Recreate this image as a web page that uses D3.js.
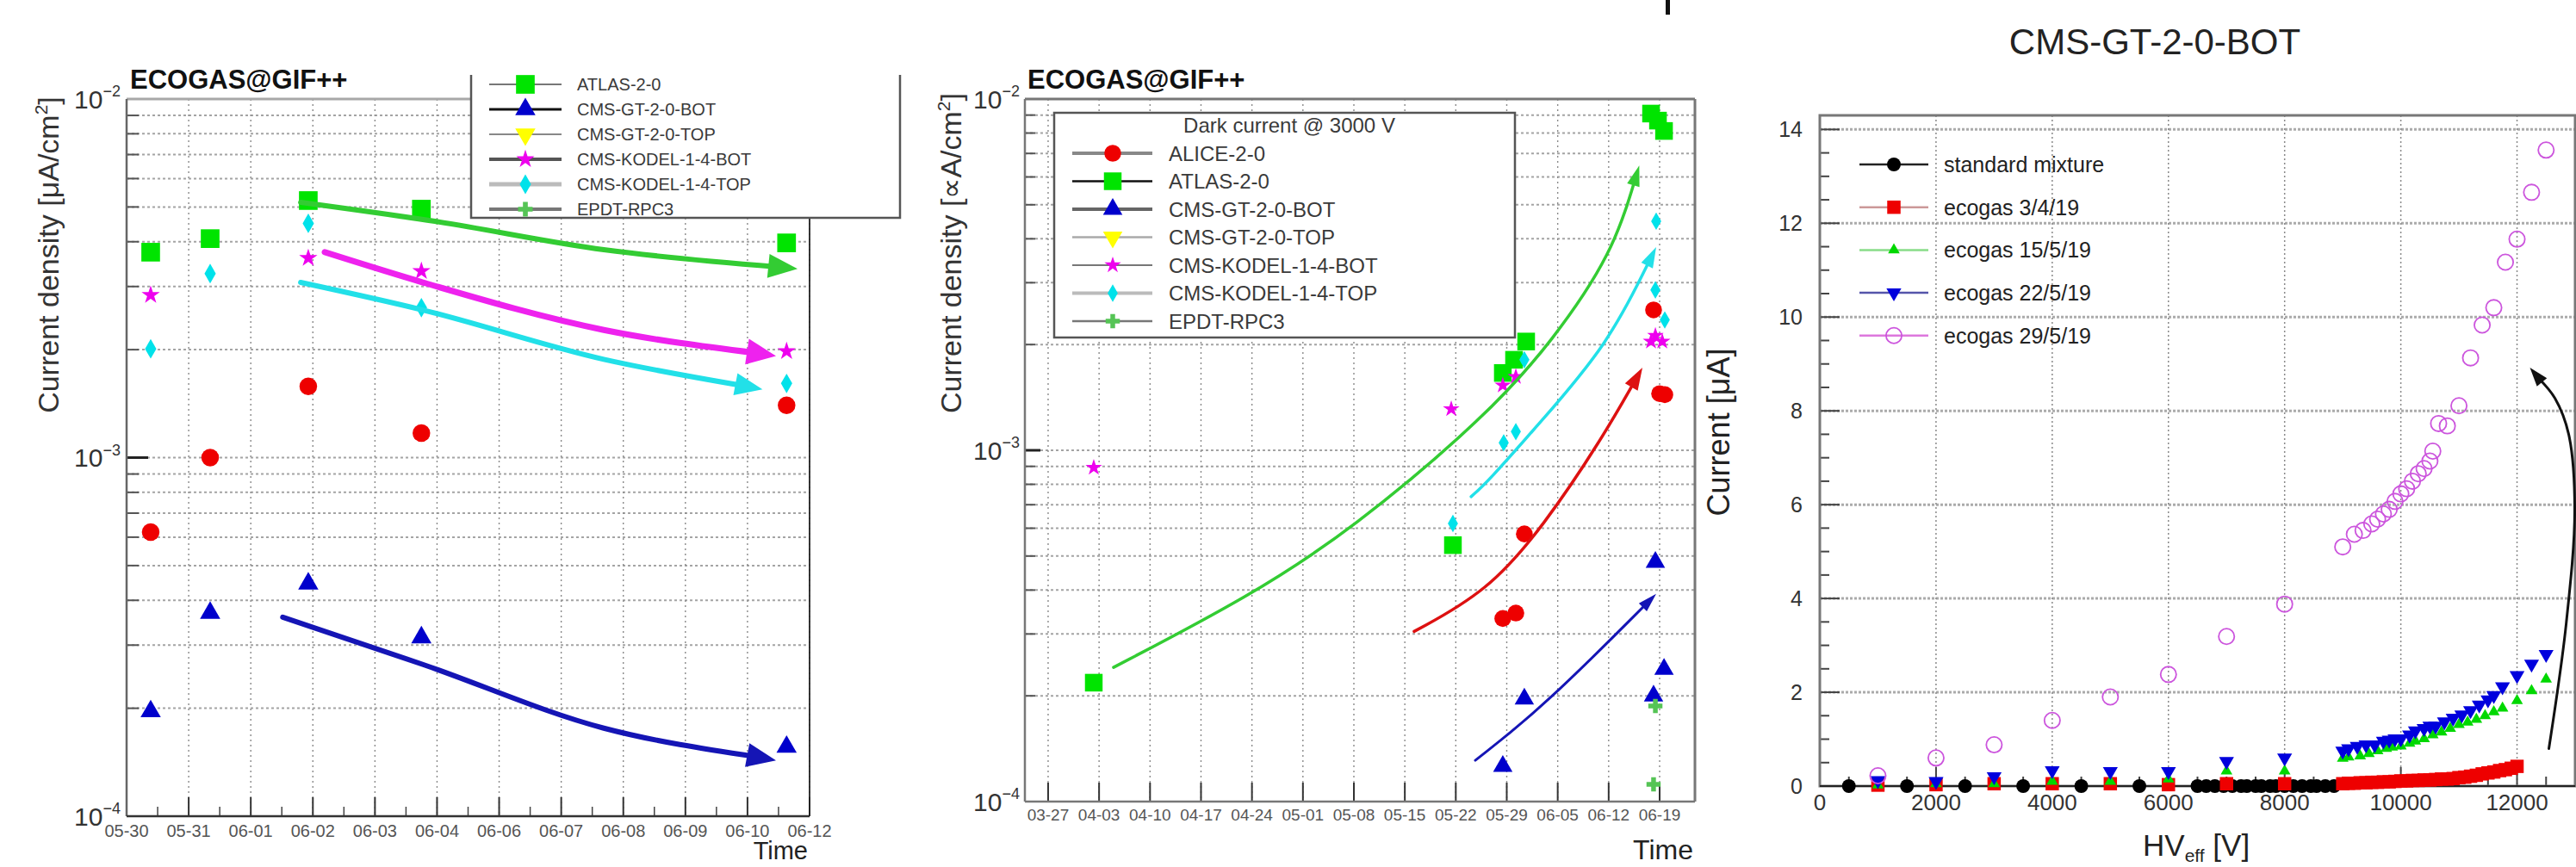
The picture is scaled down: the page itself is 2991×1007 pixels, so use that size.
<!DOCTYPE html>
<html>
<head>
<meta charset="utf-8">
<script src="https://cdn.jsdelivr.net/npm/d3@7"></script>
<style>
  body { margin: 0; background: #fff; }
  svg { display: block; }
  text { font-family: "Liberation Sans", Arial, sans-serif; }
</style>
</head>
<body>
<svg id="chart" width="2991" height="1007"></svg>
<script>
// ---------- panel 1: dark current vs time (05-30 .. 06-12) ----------
const p1Alice = [["2019-05-30 11:00", 6.2e-4], ["2019-05-31 14:10", 1.0e-3], ["2019-06-02 11:00", 1.58e-3], ["2019-06-04 14:40", 1.17e-3], ["2019-06-11 13:30", 1.40e-3]];
const p1Atlas = [["2019-05-30 11:00", 3.74e-3], ["2019-05-31 14:10", 4.08e-3], ["2019-06-02 11:00", 5.21e-3], ["2019-06-04 14:40", 4.93e-3], ["2019-06-11 13:30", 3.97e-3]];
const p1GtBot = [["2019-05-30 11:00", 1.96e-4], ["2019-05-31 14:10", 3.69e-4], ["2019-06-02 11:00", 4.45e-4], ["2019-06-04 14:40", 3.15e-4], ["2019-06-11 13:30", 1.56e-4]];
const p1KodelBot = [["2019-05-30 11:00", 2.84e-3], ["2019-06-02 11:00", 3.60e-3], ["2019-06-04 14:40", 3.31e-3], ["2019-06-11 13:30", 1.98e-3]];
const p1KodelTop = [["2019-05-30 11:00", 2.01e-3], ["2019-05-31 14:10", 3.26e-3], ["2019-06-02 11:00", 4.50e-3], ["2019-06-04 14:40", 2.62e-3], ["2019-06-11 13:30", 1.61e-3]];
// hand-drawn trend arrows (points along each curve, last one is the tip)
const p1ArrowAtlas = [["2019-06-02 07:30", 5.15e-3], ["2019-06-04 20:50", 4.56e-3], ["2019-06-08 02:00", 3.80e-3], ["2019-06-11 18:30", 3.36e-3]];
const p1ArrowKodelBot = [["2019-06-02 18:30", 3.74e-3], ["2019-06-04 15:20", 3.08e-3], ["2019-06-08 02:00", 2.27e-3], ["2019-06-11 08:40", 1.92e-3]];
const p1ArrowKodelTop = [["2019-06-02 07:30", 3.08e-3], ["2019-06-04 15:20", 2.58e-3], ["2019-06-08 02:00", 1.88e-3], ["2019-06-11 02:30", 1.55e-3]];
const p1ArrowGtBot = [["2019-06-01 23:20", 3.59e-4], ["2019-06-04 15:20", 2.65e-4], ["2019-06-08 02:00", 1.76e-4], ["2019-06-11 08:40", 1.43e-4]];

// ---------- panel 2: dark current @ 3000 V (03-27 .. 06-19) ----------
const p2Alice = [["2019-05-28 11:00", 3.32e-4], ["2019-05-30 06:00", 3.44e-4], ["2019-05-31 10:00", 5.78e-4], ["2019-06-18 04:00", 2.51e-3], ["2019-06-19 00:00", 1.45e-3], ["2019-06-19 17:00", 1.44e-3]];
const p2Atlas = [["2019-04-02 06:30", 2.18e-4], ["2019-05-21 14:30", 5.37e-4], ["2019-05-28 11:00", 1.66e-3], ["2019-05-30 00:00", 1.81e-3], ["2019-05-31 16:00", 2.04e-3], ["2019-06-17 19:40", 9.09e-3], ["2019-06-18 18:30", 8.68e-3], ["2019-06-19 14:30", 8.11e-3]];
const p2GtBot = [["2019-05-28 11:00", 1.26e-4], ["2019-05-31 10:00", 1.96e-4], ["2019-06-18 04:00", 2.0e-4], ["2019-06-18 10:00", 4.8e-4], ["2019-06-19 14:30", 2.38e-4]];
const p2GtTop = [];
const p2KodelBot = [["2019-04-02 06:30", 8.93e-4], ["2019-05-21 09:00", 1.31e-3], ["2019-05-28 11:00", 1.53e-3], ["2019-05-30 06:00", 1.62e-3], ["2019-06-17 19:40", 2.04e-3], ["2019-06-18 10:00", 2.12e-3], ["2019-06-19 08:40", 2.04e-3]];
const p2KodelTop = [["2019-05-21 14:30", 6.19e-4], ["2019-05-28 14:00", 1.05e-3], ["2019-05-30 06:00", 1.13e-3], ["2019-05-31 10:00", 1.81e-3], ["2019-06-18 10:00", 2.86e-3], ["2019-06-18 12:40", 4.49e-3], ["2019-06-19 17:00", 2.35e-3]];
const p2Epdt = [["2019-06-18 04:00", 1.12e-4], ["2019-06-18 10:00", 1.87e-4]];
const p2ArrowAtlas = [["2019-04-04 23:45", 2.41e-4], ["2019-04-23 13:40", 3.83e-4], ["2019-05-07 18:30", 5.95e-4], ["2019-05-26 08:10", 1.26e-3], ["2019-06-04 08:00", 2.05e-3], ["2019-06-12 14:30", 3.66e-3], ["2019-06-16 04:50", 6.47e-3]];
const p2ArrowKodelTop = [["2019-05-24 02:30", 7.38e-4], ["2019-05-26 08:10", 8.11e-4], ["2019-06-02 10:30", 1.19e-3], ["2019-06-11 21:40", 2.0e-3], ["2019-06-18 12:40", 3.79e-3]];
const p2ArrowAlice = [["2019-05-16 06:40", 3.05e-4], ["2019-05-26 08:10", 3.96e-4], ["2019-06-03 03:40", 6.12e-4], ["2019-06-11 02:00", 1.08e-3], ["2019-06-16 15:20", 1.72e-3]];
const p2ArrowGtBot = [["2019-05-24 16:20", 1.31e-4], ["2019-06-03 03:40", 1.87e-4], ["2019-06-18 12:40", 3.9e-4]];

const legendNames = ["ALICE-2-0", "ATLAS-2-0", "CMS-GT-2-0-BOT", "CMS-GT-2-0-TOP", "CMS-KODEL-1-4-BOT", "CMS-KODEL-1-4-TOP", "EPDT-RPC3"];

// ---------- panel 3: CMS-GT-2-0-BOT current vs HV_eff ----------
const hvStd = [500, 1500, 2500, 3500, 4500, 5500, 6500, 6650, 6800, 6950, 7100, 7250, 7350, 7500, 7600, 7750, 7850, 8000, 8150, 8300, 8450, 8550, 8700, 8850];
const iStd = [0, 0, 0, 0, 0, 0, 0, 0, 0, 0, 0, 0, 0, 0, 0, 0, 0, 0, 0, 0, 0, 0, 0, 0];
const hv0304 = [1000, 2000, 3000, 4000, 5000, 6000, 7000, 8000,
  9000, 9100, 9200, 9300, 9400, 9500, 9600, 9700, 9800, 9900, 10000, 10100, 10200, 10300, 10400, 10500,
  10600, 10700, 10800, 10900, 11000, 11100, 11200, 11300, 11400, 11500, 11600, 11700, 11800, 11900, 12000];
const i0304 = [0.02, 0.03, 0.05, 0.05, 0.05, 0.03, 0.05, 0.05,
  0.05, 0.06, 0.06, 0.07, 0.07, 0.08, 0.08, 0.09, 0.09, 0.10, 0.11, 0.11, 0.12, 0.12, 0.13, 0.13,
  0.14, 0.15, 0.15, 0.16, 0.18, 0.19, 0.21, 0.23, 0.26, 0.28, 0.30, 0.33, 0.35, 0.38, 0.42];
const hv1505 = [1000, 2000, 3000, 4000, 5000, 6000, 7000, 8000,
  9000, 9100, 9300, 9450, 9600, 9750, 9850, 10000, 10150, 10250, 10400, 10550, 10700, 10850, 11000, 11150, 11300, 11450, 11600, 11750, 12000, 12250, 12500];
const i1505 = [0.02, 0.05, 0.05, 0.10, 0.10, 0.15, 0.32, 0.32,
  0.59, 0.62, 0.64, 0.69, 0.75, 0.80, 0.83, 0.85, 0.91, 0.96, 1.01, 1.09, 1.15, 1.23, 1.31, 1.36, 1.42, 1.50, 1.58, 1.66, 1.82, 2.03, 2.28];
const hv2205 = [1000, 2000, 3000, 4000, 5000, 6000, 7000, 8000,
  9000, 9100, 9250, 9400, 9550, 9700, 9800, 9900, 10000, 10150, 10250, 10400, 10500, 10600, 10750, 10900, 11050, 11200, 11350, 11500, 11600, 11750, 12000, 12250, 12500];
const i2205 = [0.12, 0.10, 0.20, 0.33, 0.31, 0.31, 0.53, 0.60,
  0.75, 0.80, 0.85, 0.88, 0.88, 0.96, 0.98, 1.01, 1.01, 1.09, 1.18, 1.23, 1.28, 1.28, 1.37, 1.45, 1.52, 1.61, 1.73, 1.84, 1.93, 2.12, 2.36, 2.60, 2.81];
const hv2905 = [1000, 2000, 3000, 4000, 5000, 6000, 7000, 8000,
  9000, 9200, 9350, 9500, 9600, 9700, 9800, 9900, 10000, 10100, 10200, 10300, 10400, 10500, 10550, 10650, 10800, 11000, 11200, 11400, 11600, 11800, 12000, 12250, 12500];
const i2905 = [0.22, 0.60, 0.88, 1.40, 1.90, 2.38, 3.19, 3.88,
  5.10, 5.37, 5.45, 5.59, 5.69, 5.80, 5.90, 6.07, 6.23, 6.34, 6.50, 6.66, 6.77, 6.93, 7.14, 7.73, 7.68, 8.11, 9.13, 9.83, 10.2, 11.17, 11.66, 12.66, 13.56];
const p3Arrow = [[12548, 0.8], [12844, 3.44], [12993, 5.9], [12889, 7.5], [12652, 8.27], [12222, 8.92]];
const p3Names = ["standard mixture", "ecogas 3/4/19", "ecogas 15/5/19", "ecogas 22/5/19", "ecogas 29/5/19"];

// ---------------------------------------------------------------
const svg = d3.select("#chart");
const parse = d3.timeParse("%Y-%m-%d %H:%M");
const fmtDay = d3.timeFormat("%m-%d");
const zip = (a, b) => a.map((v, i) => [v, b[i]]);

const shapes = {
  circle: d3.symbolCircle, square: d3.symbolSquare, triUp: d3.symbolTriangle,
  triDown: d3.symbolTriangle, star: d3.symbolStar, diamond: d3.symbolDiamond, cross: d3.symbolCross
};

function drawMarks(g, data, px, py, st) {
  g.append("g").selectAll("path").data(data).join("path")
    .attr("transform", d => `translate(${px(d)},${py(d)})` + (st.shape === "triDown" ? " rotate(180)" : ""))
    .attr("d", d3.symbol(shapes[st.shape], st.size))
    .attr("fill", st.open ? "none" : st.color)
    .attr("stroke", st.open ? st.color : "none")
    .attr("stroke-width", st.open ? 1.8 : 0);
}

function drawArrow(g, pts, color, width, headL, headW, curve) {
  const p = pts.slice();
  const n = p.length, tip = p[n - 1], prev = p[n - 2];
  let dx = tip[0] - prev[0], dy = tip[1] - prev[1];
  const len = Math.hypot(dx, dy);
  dx /= len; dy /= len;
  const base = [tip[0] - dx * headL, tip[1] - dy * headL];
  p[n - 1] = [tip[0] - dx * headL * 0.7, tip[1] - dy * headL * 0.7];
  g.append("path")
    .attr("d", d3.line().curve(curve || d3.curveMonotoneX)(p))
    .attr("fill", "none").attr("stroke", color)
    .attr("stroke-width", width).attr("stroke-linecap", "round");
  g.append("path")
    .attr("d", `M${tip[0]},${tip[1]}L${base[0] - dy * headW / 2},${base[1] + dx * headW / 2}L${base[0] + dy * headW / 2},${base[1] - dx * headW / 2}Z`)
    .attr("fill", color);
}

function powLabel(g, x, y, exp, size) {
  const t = g.append("text").attr("x", x).attr("y", y + size * 0.36)
    .attr("text-anchor", "end").attr("fill", "#333").style("font-size", size + "px");
  t.append("tspan").text("10");
  t.append("tspan").attr("dy", -size * 0.45).style("font-size", (size * 0.6) + "px").text("\u2212" + exp);
}

// ROOT-like log-y time panel (panels 1 and 2)
function logPanel(c) {
  const g = svg.append("g");
  const x = c.x, y = c.y;
  const [x0, x1] = x.range(), [yb, yt] = y.range();

  const minors = [];
  [1e-4, 1e-3].forEach(d => { for (let k = 2; k <= 9; k++) minors.push(k * d); });

  // grid
  g.append("g").selectAll("line").data(minors.concat([1e-3])).join("line")
    .attr("x1", x0).attr("x2", x1).attr("y1", d => y(d)).attr("y2", d => y(d))
    .attr("stroke", "#a4a4a4").attr("stroke-width", 2).attr("stroke-dasharray", "3,3");
  g.append("g").selectAll("line").data(c.ticks).join("line")
    .attr("x1", d => x(d)).attr("x2", d => x(d)).attr("y1", yt).attr("y2", yb)
    .attr("stroke", "#8a8a8a").attr("stroke-width", 1.4).attr("stroke-dasharray", "2,4");

  // ticks
  g.append("g").selectAll("line").data(minors).join("line")
    .attr("x1", x0).attr("x2", x0 + c.minorLen).attr("y1", d => y(d)).attr("y2", d => y(d))
    .attr("stroke", "#555").attr("stroke-width", 2);
  g.append("line").attr("x1", x0).attr("x2", x0 + c.majorLen).attr("y1", y(1e-3)).attr("y2", y(1e-3))
    .attr("stroke", "#222").attr("stroke-width", 3);
  g.append("g").selectAll("line").data(c.ticks).join("line")
    .attr("x1", d => x(d)).attr("x2", d => x(d)).attr("y1", yb).attr("y2", yb - 22)
    .attr("stroke", "#333").attr("stroke-width", 2);
  g.append("g").selectAll("line").data(c.minorTicks).join("line")
    .attr("x1", d => x(d)).attr("x2", d => x(d)).attr("y1", yb).attr("y2", yb - 11)
    .attr("stroke", "#444").attr("stroke-width", 1.5);

  // frame
  g.append("line").attr("x1", x0).attr("x2", x1).attr("y1", yt).attr("y2", yt).attr("stroke", c.frame.top).attr("stroke-width", 3);
  g.append("line").attr("x1", x0).attr("x2", x0).attr("y1", yt).attr("y2", yb).attr("stroke", c.frame.left).attr("stroke-width", 2.5);
  g.append("line").attr("x1", x0).attr("x2", x1).attr("y1", yb).attr("y2", yb).attr("stroke", c.frame.bottom).attr("stroke-width", 2.5);
  g.append("line").attr("x1", x1).attr("x2", x1).attr("y1", yt).attr("y2", yb).attr("stroke", c.frame.right).attr("stroke-width", c.frame.rightW);

  // tick labels
  g.append("g").selectAll("text").data(c.ticks).join("text")
    .attr("x", d => x(d)).attr("y", c.labelY).attr("text-anchor", "middle")
    .attr("fill", "#555").style("font-size", c.tickFont + "px").text(d => fmtDay(d));
  [2, 3, 4].forEach(e => powLabel(g, c.powX, y(Math.pow(10, -e)), e, 30));

  // titles
  g.append("text").attr("x", c.titleX).attr("y", 103).style("font-size", "31px")
    .style("font-weight", "bold").attr("fill", "#111").text("ECOGAS@GIF++");
  const yl = g.append("text").attr("transform", `translate(${c.ylabX},${c.ylabY}) rotate(-90)`)
    .attr("text-anchor", "middle").attr("fill", "#333").style("font-size", "34px");
  yl.append("tspan").text(`Current density [${c.mu}A/cm`);
  yl.append("tspan").attr("dy", -13).style("font-size", "21px").text("2");
  yl.append("tspan").attr("dy", 13).text("]");
  g.append("text").attr("x", x1 - 2).attr("y", c.timeY).attr("text-anchor", "end")
    .attr("fill", "#222").style("font-size", c.timeFont + "px").text("Time");
  return g;
}

function legendBox(g, c) {
  g.append("rect").attr("x", c.x0).attr("y", c.y0).attr("width", c.x1 - c.x0).attr("height", c.y1 - c.y0)
    .attr("fill", "#fff");
  g.append("path").attr("d", c.open
      ? `M${c.x0},${c.y0}V${c.y1}H${c.x1}V${c.y0}`
      : `M${c.x0},${c.y0}V${c.y1}H${c.x1}V${c.y0}Z`)
    .attr("fill", "none").attr("stroke", "#555").attr("stroke-width", 2.5);
  c.entries.forEach((e, i) => {
    const yy = c.firstY + i * c.step;
    g.append("line").attr("x1", c.lineX0).attr("x2", c.lineX1).attr("y1", yy).attr("y2", yy)
      .attr("stroke", e.line).attr("stroke-width", e.lw);
    drawMarks(g, [0], () => c.markX, () => yy, e.style);
    g.append("text").attr("x", c.textX).attr("y", yy + c.font * 0.36)
      .attr("fill", "#3a3a3a").style("font-size", c.font + "px").text(e.name);
  });
}

// ================= panel 1 =================
{
  const d0 = new Date(2019, 4, 30), d1 = new Date(2019, 5, 12);
  const x = d3.scaleTime().domain([d0, d1]).range([147, 940]);
  const y = d3.scaleLog().domain([1e-4, 1e-2]).range([948, 115]);
  const step = (d1 - d0) / 11;
  const ticks = d3.range(12).map(i => new Date(+d0 + i * step));
  const minorTicks = d3.range(11).map(i => new Date(+d0 + (i + 0.5) * step));
  const g = logPanel({
    x, y, ticks, minorTicks, majorLen: 25, minorLen: 14, labelY: 972, tickFont: 20,
    powX: 140, titleX: 151, ylabX: 68, ylabY: 296, timeY: 998, timeFont: 29, mu: "\u03bc",
    frame: { top: "#a8a8a8", left: "#666", bottom: "#333", right: "#222", rightW: 1.8 }
  });
  const st = {
    alice: { shape: "circle", size: 330, color: "#ee0000" },
    atlas: { shape: "square", size: 470, color: "#00e400" },
    gtBot: { shape: "triUp", size: 240, color: "#0000cc" },
    gtTop: { shape: "triDown", size: 240, color: "#ffff00" },
    kBot: { shape: "star", size: 140, color: "#ee00ee" },
    kTop: { shape: "diamond", size: 150, color: "#00e2ea" },
    epdt: { shape: "cross", size: 160, color: "#55c455" }
  };
  legendBox(g, {
    x0: 547, x1: 1045, y0: 87, y1: 253, open: true, firstY: 98, step: 29,
    lineX0: 568, lineX1: 652, markX: 610, textX: 670, font: 20,
    entries: [
      { name: legendNames[1], line: "#777", lw: 2, style: st.atlas },
      { name: legendNames[2], line: "#111", lw: 3, style: st.gtBot },
      { name: legendNames[3], line: "#888", lw: 2, style: st.gtTop },
      { name: legendNames[4], line: "#555", lw: 4, style: st.kBot },
      { name: legendNames[5], line: "#bbb", lw: 5, style: st.kTop },
      { name: legendNames[6], line: "#777", lw: 4, style: st.epdt }
    ]
  });
  const px = d => x(parse(d[0])), py = d => y(d[1]);
  drawMarks(g, p1Alice, px, py, st.alice);
  drawMarks(g, p1Atlas, px, py, st.atlas);
  drawMarks(g, p1GtBot, px, py, st.gtBot);
  drawMarks(g, p1KodelBot, px, py, st.kBot);
  drawMarks(g, p1KodelTop, px, py, st.kTop);
  const toPx = a => a.map(d => [px(d), py(d)]);
  drawArrow(g, toPx(p1ArrowAtlas), "#33cc33", 6, 34, 28);
  drawArrow(g, toPx(p1ArrowKodelBot), "#ee22ee", 7, 34, 30);
  drawArrow(g, toPx(p1ArrowKodelTop), "#22e0e8", 6, 32, 26);
  drawArrow(g, toPx(p1ArrowGtBot), "#1515b5", 6, 34, 28);
}

// ================= panel 2 =================
{
  const x = d3.scaleTime().domain([new Date(2019, 2, 23, 19, 25), new Date(2019, 5, 23, 20, 25)]).range([1190, 1968]);
  const y = d3.scaleLog().domain([1e-4, 1e-2]).range([931, 115]);
  const ticks = d3.timeWednesday.range(new Date(2019, 2, 26), new Date(2019, 5, 20));
  const g = logPanel({
    x, y, ticks, minorTicks: [], majorLen: 18, minorLen: 12, labelY: 953, tickFont: 19,
    powX: 1184, titleX: 1193, ylabX: 1116, ylabY: 294, timeY: 998, timeFont: 32, mu: "\u221d",
    frame: { top: "#777", left: "#777", bottom: "#777", right: "#777", rightW: 3 }
  });
  const st = {
    alice: { shape: "circle", size: 300, color: "#ee0000" },
    atlas: { shape: "square", size: 420, color: "#00e400" },
    gtBot: { shape: "triUp", size: 220, color: "#0000cc" },
    gtTop: { shape: "triDown", size: 220, color: "#ffff00" },
    kBot: { shape: "star", size: 115, color: "#ee00ee" },
    kTop: { shape: "diamond", size: 120, color: "#00e2ea" },
    epdt: { shape: "cross", size: 150, color: "#55c455" }
  };
  legendBox(g, {
    x0: 1224, x1: 1759, y0: 131, y1: 392, open: false, firstY: 178, step: 32.5,
    lineX0: 1245, lineX1: 1338, markX: 1292, textX: 1357, font: 24,
    entries: [
      { name: legendNames[0], line: "#888", lw: 4, style: st.alice },
      { name: legendNames[1], line: "#111", lw: 2.5, style: st.atlas },
      { name: legendNames[2], line: "#666", lw: 4, style: st.gtBot },
      { name: legendNames[3], line: "#aaa", lw: 2.5, style: st.gtTop },
      { name: legendNames[4], line: "#777", lw: 2, style: st.kBot },
      { name: legendNames[5], line: "#bbb", lw: 4, style: st.kTop },
      { name: legendNames[6], line: "#777", lw: 2.5, style: st.epdt }
    ]
  });
  g.append("text").attr("x", 1497).attr("y", 154).attr("text-anchor", "middle")
    .attr("fill", "#3a3a3a").style("font-size", "24px").text("Dark current @ 3000 V");
  const px = d => x(parse(d[0])), py = d => y(d[1]);
  drawMarks(g, p2Alice, px, py, st.alice);
  drawMarks(g, p2Atlas, px, py, st.atlas);
  drawMarks(g, p2GtBot, px, py, st.gtBot);
  drawMarks(g, p2GtTop, px, py, st.gtTop);
  drawMarks(g, p2KodelBot, px, py, st.kBot);
  drawMarks(g, p2KodelTop, px, py, st.kTop);
  drawMarks(g, p2Epdt, px, py, st.epdt);
  const toPx = a => a.map(d => [px(d), py(d)]);
  drawArrow(g, toPx(p2ArrowAtlas), "#33cc33", 3.5, 24, 15, d3.curveBasis);
  drawArrow(g, toPx(p2ArrowKodelTop), "#22e0e8", 3.5, 24, 15, d3.curveBasis);
  drawArrow(g, toPx(p2ArrowAlice), "#dd1111", 3.5, 26, 17, d3.curveBasis);
  drawArrow(g, toPx(p2ArrowGtBot), "#1515b5", 3, 22, 13, d3.curveBasis);
  // fragment of a cut-off heading at the very top
  g.append("rect").attr("x", 1934).attr("y", 0).attr("width", 5).attr("height", 17).attr("fill", "#111");
}

// ================= panel 3 =================
{
  const g = svg.append("g");
  const x = d3.scaleLinear().domain([0, 13000]).range([2113, 2990]);
  const y = d3.scaleLinear().domain([0, 14.3]).range([913, 134]);
  const yMajor = d3.range(2, 16, 2).filter(v => v <= 14);
  const xMajor = d3.range(2000, 13000, 2000);

  g.append("g").selectAll("line").data(yMajor).join("line")
    .attr("x1", x(0)).attr("x2", x(13000)).attr("y1", d => y(d)).attr("y2", d => y(d))
    .attr("stroke", "#ababab").attr("stroke-width", 3).attr("stroke-dasharray", "3,2");
  g.append("g").selectAll("line").data(xMajor).join("line")
    .attr("x1", d => x(d)).attr("x2", d => x(d)).attr("y1", y(14.3)).attr("y2", y(0))
    .attr("stroke", "#8a8a8a").attr("stroke-width", 1.5).attr("stroke-dasharray", "2,3");

  // ticks
  g.append("g").selectAll("line").data(d3.range(0, 14.3, 0.5)).join("line")
    .attr("x1", x(0)).attr("x2", d => x(0) + (d % 2 === 0 ? 23 : 11)).attr("y1", d => y(d)).attr("y2", d => y(d))
    .attr("stroke", "#444").attr("stroke-width", 2);
  g.append("g").selectAll("line").data(d3.range(0, 13001, 500)).join("line")
    .attr("x1", d => x(d)).attr("x2", d => x(d)).attr("y1", y(0)).attr("y2", d => y(0) - (d % 2000 === 0 ? 22 : 11))
    .attr("stroke", "#444").attr("stroke-width", 2);

  // frame
  g.append("rect").attr("x", x(0)).attr("y", y(14.3)).attr("width", x(13000) - x(0)).attr("height", y(0) - y(14.3))
    .attr("fill", "none").attr("stroke", "#777").attr("stroke-width", 3);
  g.append("line").attr("x1", x(0)).attr("x2", x(13000)).attr("y1", y(0)).attr("y2", y(0))
    .attr("stroke", "#222").attr("stroke-width", 2);

  // labels
  g.append("g").selectAll("text").data(d3.range(0, 13000, 2000)).join("text")
    .attr("x", d => x(d)).attr("y", 941).attr("text-anchor", "middle")
    .attr("fill", "#333").style("font-size", "26px").text(d => d);
  g.append("g").selectAll("text").data(d3.range(0, 15, 2)).join("text")
    .attr("x", 2093).attr("y", d => y(d) + 9).attr("text-anchor", "end")
    .attr("fill", "#333").style("font-size", "25px").text(d => d);
  g.append("text").attr("x", 2502).attr("y", 63).attr("text-anchor", "middle")
    .attr("fill", "#222").style("font-size", "42px").text("CMS-GT-2-0-BOT");
  g.append("text").attr("transform", "translate(2008,502) rotate(-90)").attr("text-anchor", "middle")
    .attr("fill", "#222").style("font-size", "36px").text("Current [\u03bcA]");
  const xl = g.append("text").attr("x", 2488).attr("y", 994).attr("fill", "#222").style("font-size", "35px");
  xl.append("tspan").text("HV");
  xl.append("tspan").attr("dy", 7).style("font-size", "21px").text("eff");
  xl.append("tspan").attr("dy", -7).text(" [V]");

  const st = [
    { shape: "circle", size: 200, color: "#000" },
    { shape: "square", size: 240, color: "#ee0000" },
    { shape: "triUp", size: 80, color: "#00d800" },
    { shape: "triDown", size: 130, color: "#0000dd" },
    { shape: "circle", size: 260, color: "#cc55dd", open: true }
  ];
  const series = [zip(hvStd, iStd), zip(hv0304, i0304), zip(hv1505, i1505), zip(hv2205, i2205), zip(hv2905, i2905)];
  const px = d => x(d[0]), py = d => y(d[1]);
  series.forEach((s, i) => drawMarks(g, s, px, py, st[i]));

  // legend (no frame)
  const lineCol = ["#222", "#c99", "#8d8", "#55a", "#d7d"];
  p3Names.forEach((name, i) => {
    const yy = 191 + i * 49.7;
    g.append("line").attr("x1", 2159).attr("x2", 2239).attr("y1", yy).attr("y2", yy)
      .attr("stroke", lineCol[i]).attr("stroke-width", 2.5);
    drawMarks(g, [0], () => 2199, () => yy, st[i]);
    g.append("text").attr("x", 2257).attr("y", yy + 9).attr("fill", "#222")
      .style("font-size", "25px").text(name);
  });

  drawArrow(g, p3Arrow.map(d => [x(d[0]), y(d[1])]), "#111", 3, 22, 15, d3.curveCatmullRom);
}
</script>
</body>
</html>
